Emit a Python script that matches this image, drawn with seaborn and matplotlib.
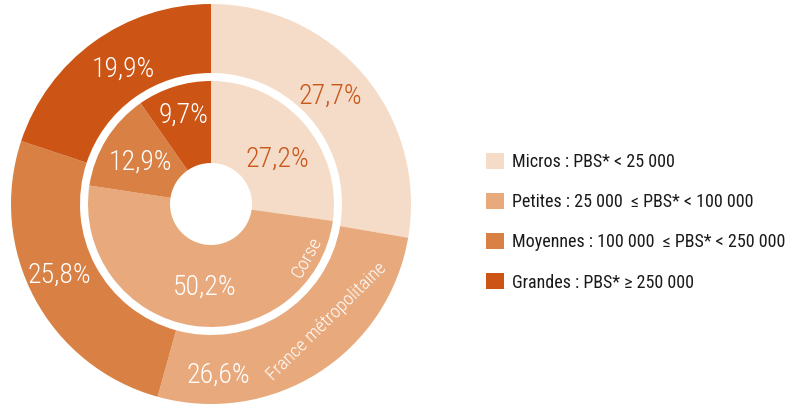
import numpy as np
import matplotlib
matplotlib.use("Agg")
import matplotlib.pyplot as plt
import seaborn as sns

sns.set_theme(style="white")
plt.rcParams["font.family"] = ["Roboto Condensed", "DejaVu Sans"]

categories = ["Micros : PBS* < 25 000",
              "Petites : 25 000  \u2264 PBS* < 100 000",
              "Moyennes : 100 000  \u2264 PBS* < 250 000",
              "Grandes : PBS* \u2265 250 000"]
france = [27.7, 26.6, 25.8, 19.9]
corse = [27.2, 50.2, 12.9, 9.7]
colors = ["#F5DCC8", "#E8AA7C", "#D98045", "#CC5515"]
label_colors = ["#C9561A", "white", "white", "white"]

cx, cy = 211, 201
r_out, w_out = 200, 69
r_in, w_in = 123, 82

fig = plt.figure(figsize=(7.92, 4.05), dpi=100)
ax = fig.add_axes([0, 0, 1, 1])

wedges_out, _ = ax.pie(france, colors=colors, startangle=90, counterclock=False,
                       center=(cx, cy), radius=r_out,
                       wedgeprops=dict(width=w_out, linewidth=0))
wedges_in, _ = ax.pie(corse, colors=colors, startangle=90, counterclock=False,
                      center=(cx, cy), radius=r_in,
                      wedgeprops=dict(width=w_in, linewidth=0))


def fmt(v):
    return f"{v:.1f}%".replace(".", ",")


def place(wedges, values, radii, shifts):
    for w, v, r, s, c in zip(wedges, values, radii, shifts, label_colors):
        ang = np.deg2rad((w.theta1 + w.theta2) / 2 + s)
        ax.text(cx + r * np.cos(ang), cy + r * np.sin(ang), fmt(v),
                ha="center", va="center", fontsize=20, color=c, fontweight="light")


place(wedges_out, france, [161, 171, 168, 161], [2, -30, -3, -3])
place(wedges_in, corse, [80, 83, 82, 93], [-7, 4, 1, 0])

# ring names, written along the rings
for name, r, a, fs in [("Corse", 110, -29, 14), ("France m\u00e9tropolitaine", 165, -45.5, 13.5)]:
    t = np.deg2rad(a)
    ax.text(cx + r * np.cos(t), cy + r * np.sin(t), name, ha="center", va="center",
            rotation=a + 90, rotation_mode="anchor", fontsize=fs, color="white",
            fontweight="light")

ax.set_xlim(0, 792)
ax.set_ylim(0, 405)
ax.set_aspect("equal")
ax.axis("off")

ax.legend(wedges_out, categories, loc="upper left", bbox_to_anchor=(486 / 792, 1 - 153 / 405),
          frameon=False, fontsize=13, handlelength=1.0, handleheight=1.0,
          handletextpad=0.45, labelspacing=1.21, borderaxespad=0, borderpad=0,
          labelcolor="#1a1a1a")

fig.savefig("out.png", dpi=100)
